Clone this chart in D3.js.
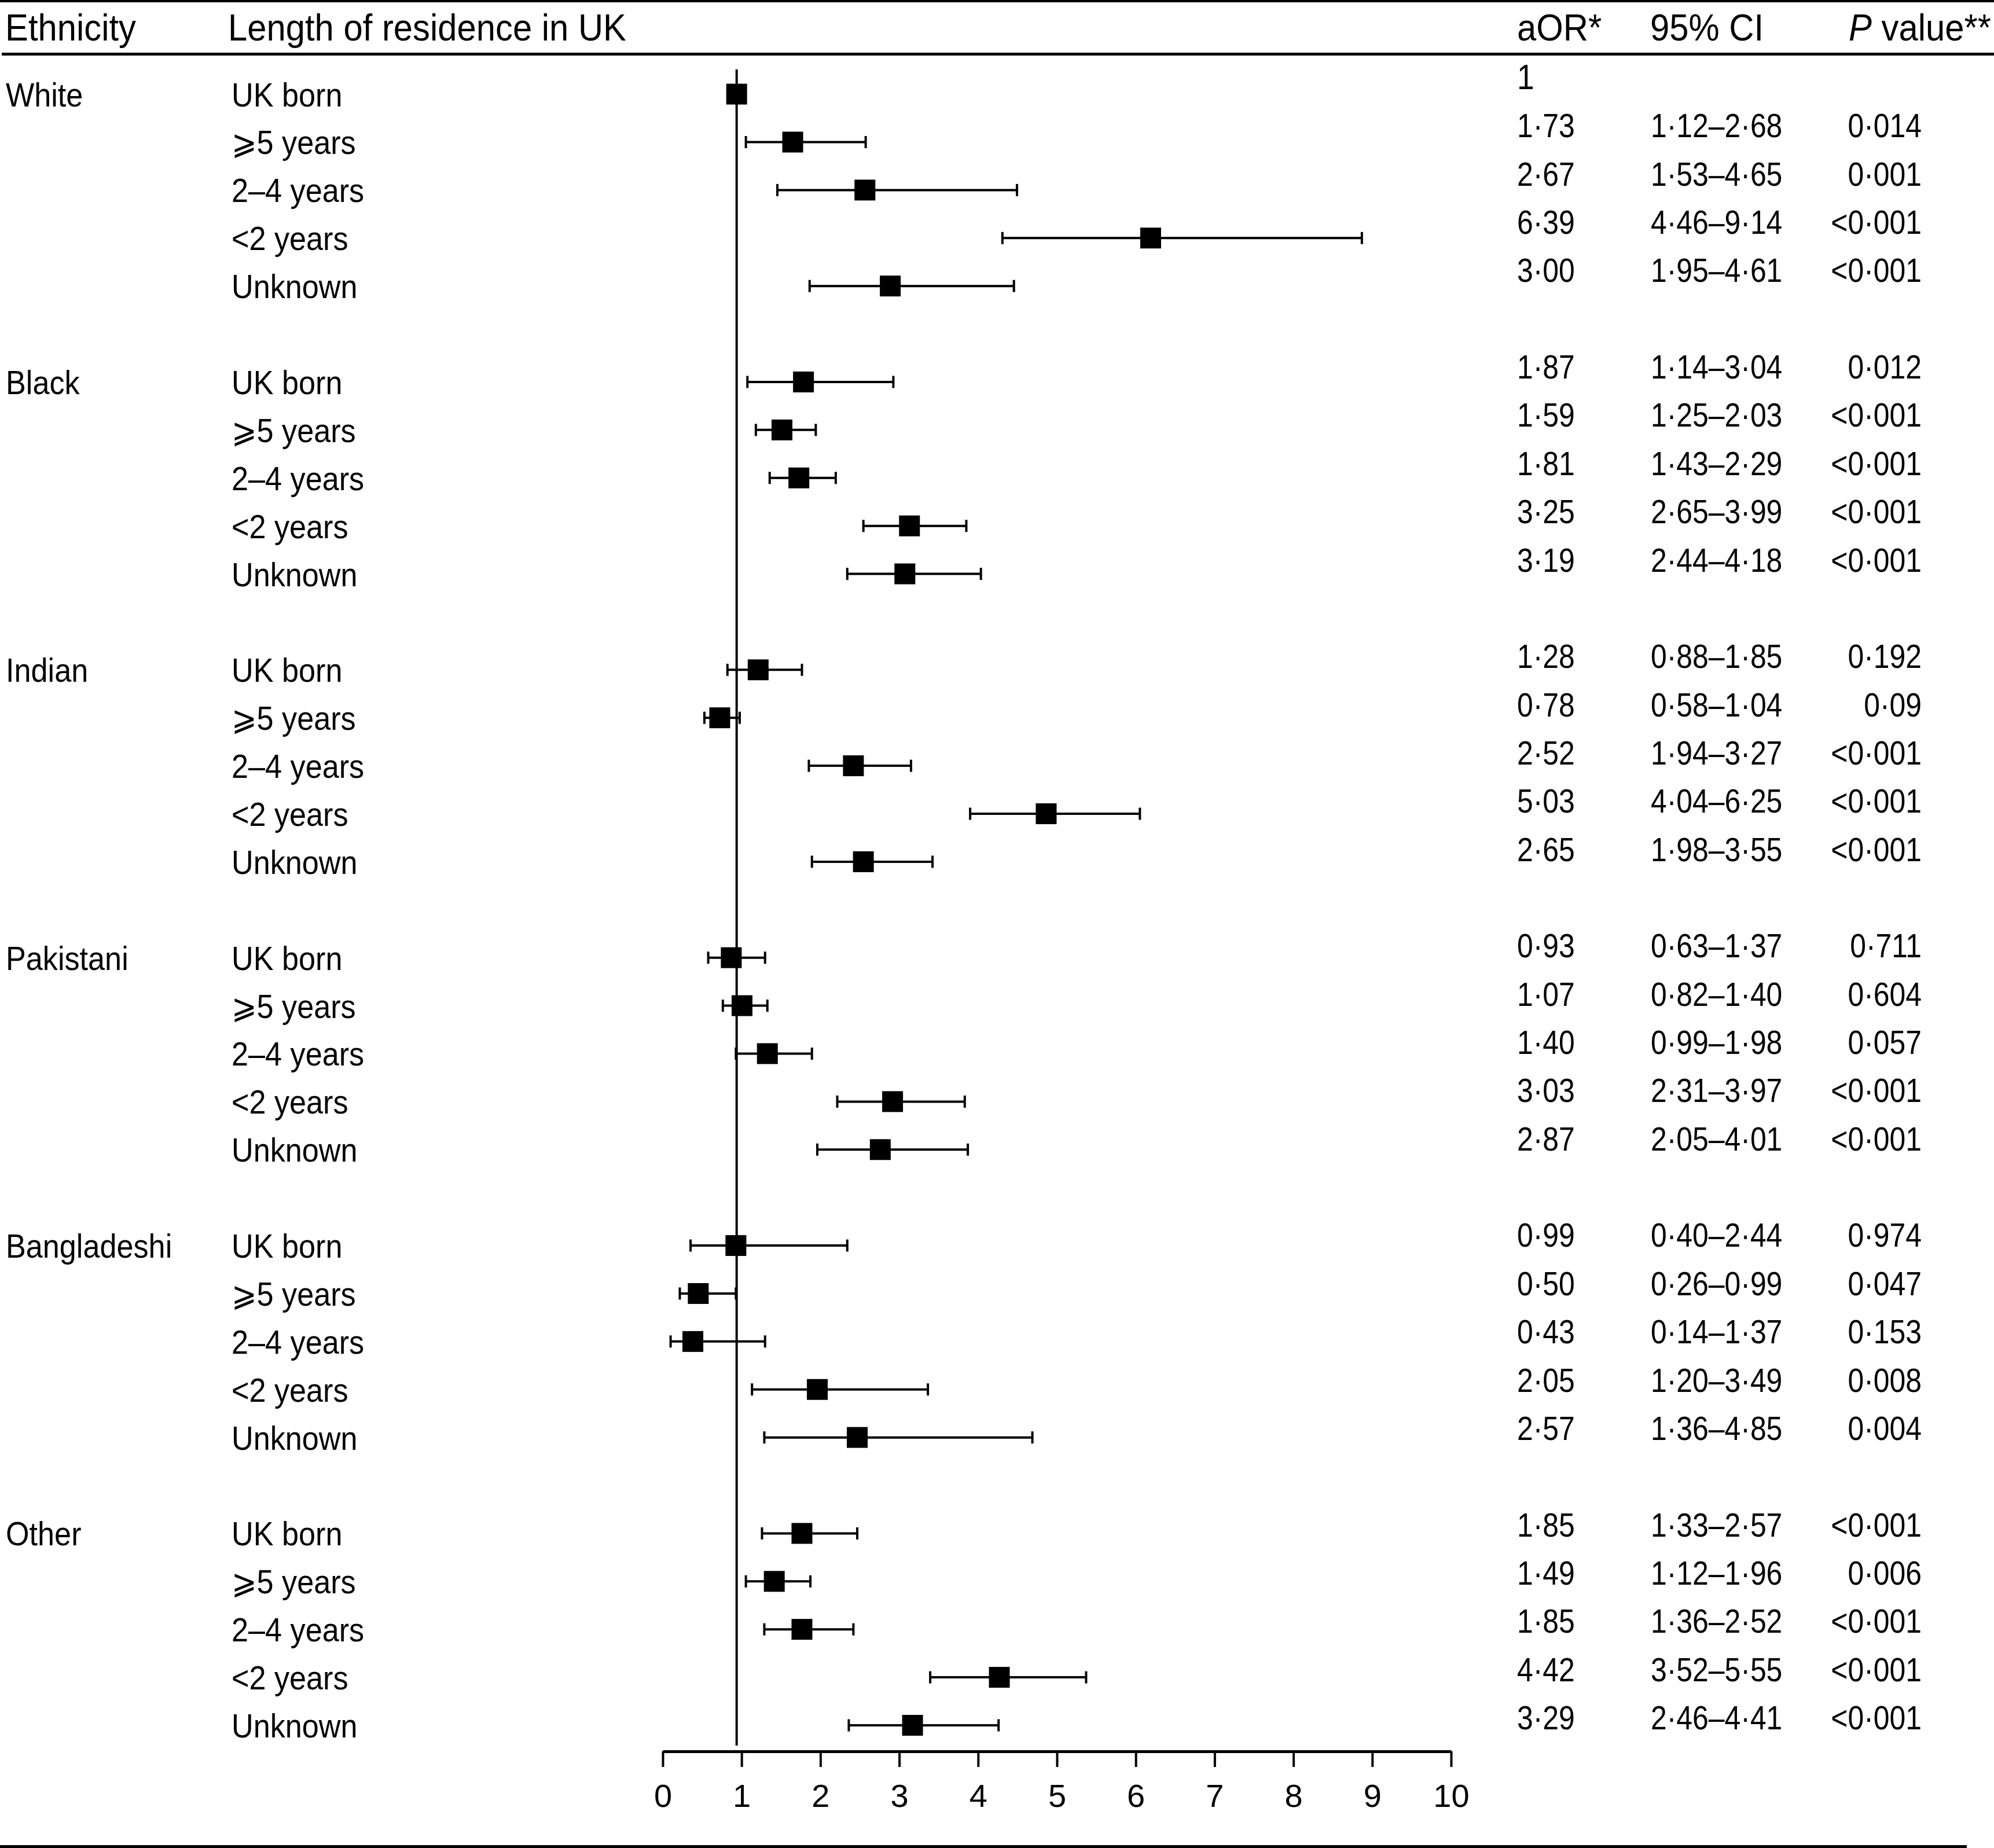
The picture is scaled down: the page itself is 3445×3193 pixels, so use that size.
<!DOCTYPE html>
<html>
<head>
<meta charset="utf-8">
<script src="https://cdn.jsdelivr.net/npm/d3@7"></script>
<style>
  html, body { margin: 0; padding: 0; background: #fff; }
  svg { display: block; }
  text { font-family: "Liberation Sans", Arial, Helvetica, sans-serif; fill: #000; }
</style>
</head>
<body>
<div id="chart"></div>
<script>
// ---------------- data ----------------
const ethnicities = ["White", "Black", "Indian", "Pakistani", "Bangladeshi", "Other"];
const residence = ["UK born", "\u2A7E5 years", "2\u20134 years", "<2 years", "Unknown"];

const aOR = [
  [1, 1.73, 2.67, 6.39, 3.00],
  [1.87, 1.59, 1.81, 3.25, 3.19],
  [1.28, 0.78, 2.52, 5.03, 2.65],
  [0.93, 1.07, 1.40, 3.03, 2.87],
  [0.99, 0.50, 0.43, 2.05, 2.57],
  [1.85, 1.49, 1.85, 4.42, 3.29]
];
const ciLower = [
  [null, 1.12, 1.53, 4.46, 1.95],
  [1.14, 1.25, 1.43, 2.65, 2.44],
  [0.88, 0.58, 1.94, 4.04, 1.98],
  [0.63, 0.82, 0.99, 2.31, 2.05],
  [0.40, 0.26, 0.14, 1.20, 1.36],
  [1.33, 1.12, 1.36, 3.52, 2.46]
];
const ciUpper = [
  [null, 2.68, 4.65, 9.14, 4.61],
  [3.04, 2.03, 2.29, 3.99, 4.18],
  [1.85, 1.04, 3.27, 6.25, 3.55],
  [1.37, 1.40, 1.98, 3.97, 4.01],
  [2.44, 0.99, 1.37, 3.49, 4.85],
  [2.57, 1.96, 2.52, 5.55, 4.41]
];
const pValues = [
  ["", "0.014", "0.001", "<0.001", "<0.001"],
  ["0.012", "<0.001", "<0.001", "<0.001", "<0.001"],
  ["0.192", "0.09", "<0.001", "<0.001", "<0.001"],
  ["0.711", "0.604", "0.057", "<0.001", "<0.001"],
  ["0.974", "0.047", "0.153", "0.008", "0.004"],
  ["<0.001", "0.006", "<0.001", "<0.001", "<0.001"]
];
const xTicks = [0, 1, 2, 3, 4, 5, 6, 7, 8, 9, 10];
const headers = { eth: "Ethnicity", res: "Length of residence in UK", aor: "aOR*", ci: "95% CI" };

// ---------------- layout ----------------
const W = 3445, H = 3193;
const FONT_BODY = 58, FONT_HEAD = 65;
const SX_LABEL = 0.9, SX_NUM = 0.86, SX_HEAD = 0.92;

const rows = [];
ethnicities.forEach((eth, g) => {
  residence.forEach((res, i) => {
    rows.push({
      eth, res, g, i, idx: g * 6 + i,
      or: aOR[g][i], lo: ciLower[g][i], hi: ciUpper[g][i], p: pValues[g][i]
    });
  });
});

const x = d3.scaleLinear().domain([0, 10]).range([1140, 2467]);
const xAxisScale = x.copy().range([1145, 2507]);
const y = d3.scaleLinear().domain([0, 34]).range([162.6, 2981]);
const yTable = d3.scaleLinear().domain([0, 34]).range([134, 2968]);

const fmt2 = d3.format(".2f");
const dot = s => String(s).replace(/\./g, "\u00B7");
const fmtOR = v => v === 1 ? "1" : dot(fmt2(v));

const svg = d3.select("#chart").append("svg")
  .attr("width", W).attr("height", H)
  .attr("viewBox", `0 0 ${W} ${H}`);
svg.append("rect").attr("width", W).attr("height", H).attr("fill", "#fff");

function txt(parent, xPos, yPos, str, size, sx, anchor) {
  return parent.append("text")
    .attr("transform", `translate(${xPos},${yPos}) scale(${sx},1)`)
    .attr("font-size", size)
    .attr("text-anchor", anchor || "start")
    .text(str);
}

// rules
svg.append("line").attr("x1", 0).attr("x2", W).attr("y1", 1.5).attr("y2", 1.5)
  .attr("stroke", "#000").attr("stroke-width", 5);
svg.append("line").attr("x1", 3).attr("x2", W).attr("y1", 93.5).attr("y2", 93.5)
  .attr("stroke", "#000").attr("stroke-width", 5);
svg.append("line").attr("x1", 0).attr("x2", 3398).attr("y1", 3190.5).attr("y2", 3190.5)
  .attr("stroke", "#000").attr("stroke-width", 5);

// headers
const hg = svg.append("g");
const HB = 70;
txt(hg, 9, HB, headers.eth, FONT_HEAD, SX_HEAD);
txt(hg, 394, HB, headers.res, FONT_HEAD, SX_HEAD);
txt(hg, 2621, HB, headers.aor, FONT_HEAD, SX_HEAD);
txt(hg, 2851, HB, headers.ci, FONT_HEAD, SX_HEAD);
const ph = hg.append("text")
  .attr("transform", `translate(3440,${HB}) scale(${SX_HEAD},1)`)
  .attr("font-size", FONT_HEAD).attr("text-anchor", "end");
ph.append("tspan").attr("font-style", "italic").text("P");
ph.append("tspan").text(" value**");

// ethnicity labels
const eg = svg.append("g");
ethnicities.forEach((eth, g) => {
  txt(eg, 10, y(g * 6) + 21, eth, FONT_BODY, SX_LABEL);
});

// residence labels
const rg = svg.append("g");
rows.forEach(r => {
  txt(rg, 400, y(r.idx) + 21, r.res, FONT_BODY, SX_LABEL);
});

// table
const tg = svg.append("g");
rows.forEach(r => {
  const b = yTable(r.idx) + 20;
  txt(tg, 2621, b, fmtOR(r.or), r.idx === 0 ? 62 : FONT_BODY, SX_NUM);
  if (r.lo != null) txt(tg, 2852, b, dot(fmt2(r.lo)) + "\u2013" + dot(fmt2(r.hi)), FONT_BODY, SX_NUM);
  if (r.p) txt(tg, 3320, b, dot(r.p), FONT_BODY, SX_NUM, "end");
});

// reference line
svg.append("line")
  .attr("x1", x(1)).attr("x2", x(1)).attr("y1", 120).attr("y2", 3016)
  .attr("stroke", "#000").attr("stroke-width", 4);

// CIs
const cg = svg.append("g").attr("stroke", "#000");
const ciRows = rows.filter(r => r.lo != null);
cg.selectAll("line.ci").data(ciRows).join("line").attr("class", "ci")
  .attr("x1", d => x(d.lo)).attr("x2", d => x(d.hi))
  .attr("y1", d => y(d.idx)).attr("y2", d => y(d.idx))
  .attr("stroke-width", 4);
["lo", "hi"].forEach(k => {
  cg.selectAll("line.cap-" + k).data(ciRows).join("line").attr("class", "cap-" + k)
    .attr("x1", d => x(d[k])).attr("x2", d => x(d[k]))
    .attr("y1", d => y(d.idx) - 10.5).attr("y2", d => y(d.idx) + 10.5)
    .attr("stroke-width", 4);
});

// squares
const S = 36;
svg.append("g").selectAll("rect").data(rows).join("rect")
  .attr("x", d => x(d.or) - S / 2).attr("y", d => y(d.idx) - S / 2)
  .attr("width", S).attr("height", S).attr("fill", "#000");

// axis
const ax = svg.append("g").attr("transform", "translate(0,3026)")
  .call(d3.axisBottom(xAxisScale).tickValues(xTicks).tickFormat(d3.format("d"))
    .tickSize(27).tickSizeOuter(0).tickPadding(29));
ax.select(".domain").attr("stroke", "#000").attr("stroke-width", 5);
ax.selectAll(".tick line").attr("stroke", "#000").attr("stroke-width", 4);
ax.selectAll(".tick text")
  .attr("font-size", 56)
  .attr("font-family", "\"Liberation Sans\", Arial, Helvetica, sans-serif")
  .attr("fill", "#000");
</script>
</body>
</html>
